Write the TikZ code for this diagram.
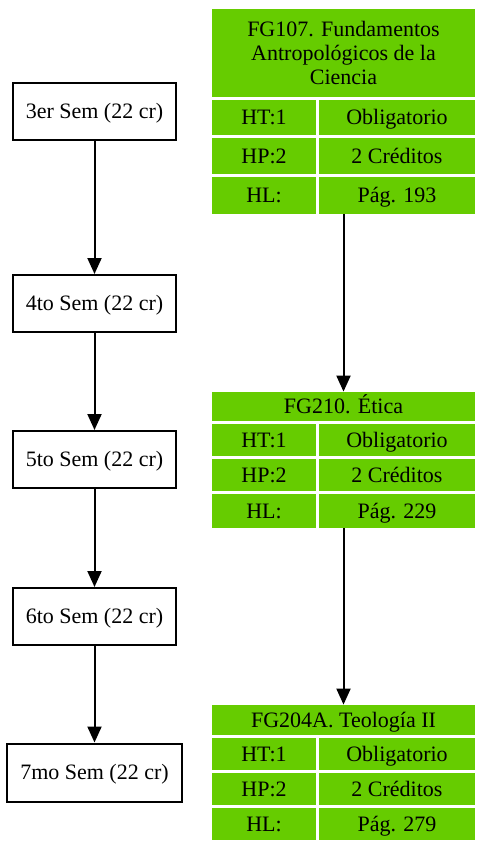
\documentclass[tikz,border=0pt]{standalone}
\usepackage{fontspec}
\setmainfont{Liberation Serif}
\usetikzlibrary{arrows.meta,fit}
\definecolor{verde}{HTML}{66CC00}

\begin{document}
\begin{tikzpicture}[x=1pt,y=-1pt]

      \tikzset{linea/.style={text height=14.6pt, text depth=0pt},
               sem/.style={draw, linea, line width=2pt, inner sep=0pt, minimum width=163pt, minimum height=57pt, font=\fontsize{22}{24}\selectfont},
               celda/.style={fill=verde, inner sep=0pt, font=\fontsize{22}{24}\selectfont},
               izq/.style={celda, linea, minimum width=104pt},
               der/.style={celda, linea, minimum width=156pt},
               cab/.style={celda, minimum width=263pt, align=center},
               flecha/.style={line width=2pt, -{Triangle[length=16pt,width=14pt]}}}
      \useasboundingbox (0,0) rectangle (483,850);
% Semestres
      	\node[sem] (s3) at (94.5,111.5) {3er Sem (22 cr)};
      	\node[sem] (s4) at (94.5,303.5) {4to Sem (22 cr)};
      	\node[sem] (s5) at (94.5,459.5) {5to Sem (22 cr)};
      	\node[sem] (s6) at (94.5,616.5) {6to Sem (22 cr)};
      	\node[sem, minimum width=175pt, minimum height=58pt] (s7) at (94.5,772.5) {7mo Sem (22 cr)};

% Cursos
	%FG107
		\node[cab, minimum height=88pt] (a0) at (343.5,53) {FG107. Fundamentos\\Antropológicos de la\\Ciencia};
		\node[izq, minimum height=35pt] (a1) at (264,117.5) {HT:1};
		\node[der, minimum height=35pt] (a2) at (397,117.5) {Obligatorio};
		\node[izq, minimum height=36pt] (a3) at (264,156) {HP:2};
		\node[der, minimum height=36pt] (a4) at (397,156) {2 Créditos};
		\node[izq, minimum height=37pt] (a5) at (264,195.5) {HL:};
		\node[der, minimum height=37pt] (a6) at (397,195.5) {Pág. 193};
		\node[fit=(a0)(a5)(a6), inner sep=0pt] (fg107) {};

	%FG210
		\node[cab, linea, minimum height=29pt] (b0) at (343.5,406.5) {FG210. Ética};
		\node[izq, minimum height=32pt] (b1) at (264,440) {HT:1};
		\node[der, minimum height=32pt] (b2) at (397,440) {Obligatorio};
		\node[izq, minimum height=32pt] (b3) at (264,475) {HP:2};
		\node[der, minimum height=32pt] (b4) at (397,475) {2 Créditos};
		\node[izq, minimum height=34pt] (b5) at (264,511) {HL:};
		\node[der, minimum height=34pt] (b6) at (397,511) {Pág. 229};
		\node[fit=(b0)(b5)(b6), inner sep=0pt] (fg210) {};

	%FG204A
		\node[cab, linea, minimum height=30pt] (c0) at (343.5,720) {FG204A. Teología II};
		\node[izq, minimum height=32pt] (c1) at (264,754) {HT:1};
		\node[der, minimum height=32pt] (c2) at (397,754) {Obligatorio};
		\node[izq, minimum height=32pt] (c3) at (264,789) {HP:2};
		\node[der, minimum height=32pt] (c4) at (397,789) {2 Créditos};
		\node[izq, minimum height=32pt] (c5) at (264,824) {HL:};
		\node[der, minimum height=32pt] (c6) at (397,824) {Pág. 279};
		\node[fit=(c0)(c5)(c6), inner sep=0pt] (fg204a) {};

%Flechas
		\path[flecha] (s3) edge node {} (s4);
		\path[flecha] (s4) edge node {} (s5);
		\path[flecha] (s5) edge node {} (s6);
		\path[flecha] (s6) edge node {} (s7);
		\path[flecha] (fg107) edge node {} (fg210);
		\path[flecha] (fg210) edge node {} (fg204a);

	\end{tikzpicture}
\end{document}
